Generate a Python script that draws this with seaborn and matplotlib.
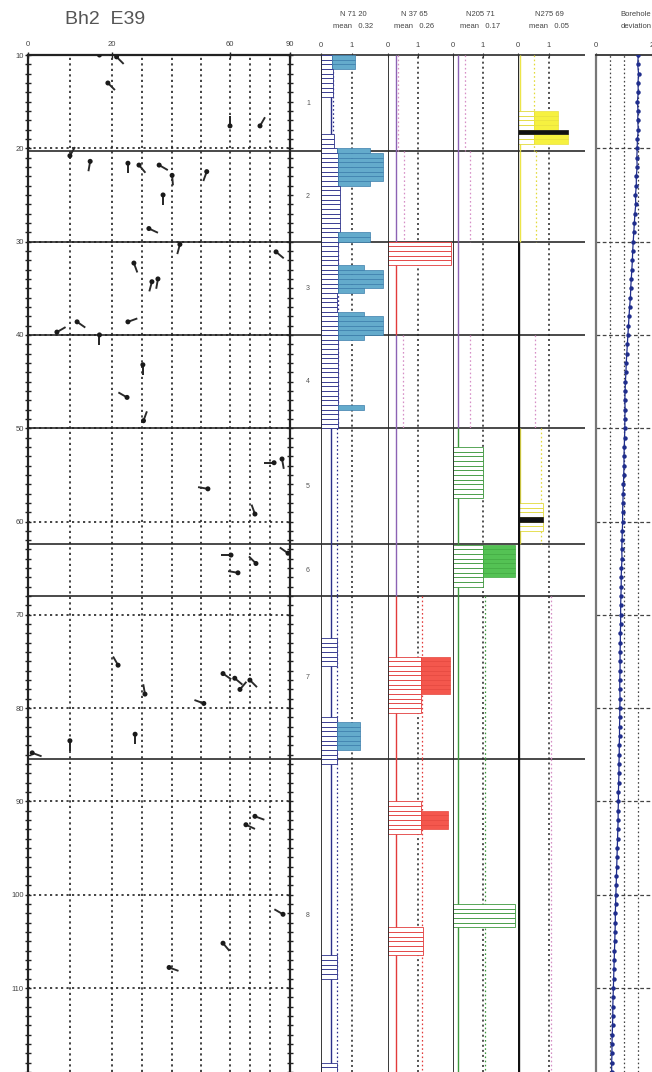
import numpy as np
import matplotlib
matplotlib.use("Agg")
import matplotlib.pyplot as plt
import seaborn as sns

sns.set_theme(style="white")
plt.rcParams['font.family'] = ['Liberation Sans', 'DejaVu Sans']

# ------------------------------------------------------------------ data
title = "Bh2  E39"
zone_names = ["1", "2", "3", "4", "5", "6", "7", "8"]
zone_bounds = [10.0, 20.3, 30.0, 40.0, 50.0, 62.4, 68.0, 85.5, 119.0]
depth_labels = [10, 20, 30, 40, 50, 60, 70, 80, 90, 100, 110]
dip_labels = [0, 20, 60, 90]

# tadpoles: dip (deg), depth (m), tail azimuth (deg, clockwise from up)
tad_dip = [17, 21.5, 19, 60, 75, 10, 14.8, 25.3, 29, 35.7, 40, 52, 37, 32.3, 42.7, 83,
           27.3, 33.3, 35.3, 25.3, 6.9, 11.7, 17, 30.3, 25, 30.5, 82, 86, 52.4, 72.5,
           89, 60.5, 73, 64, 22, 31, 57.6, 62.4, 70, 65, 51, 10, 27.7, 1, 72.5, 68,
           86.5, 57.6, 39]
tad_depth = [10.0, 10.2, 13.0, 17.6, 17.6, 20.8, 21.4, 21.6, 21.8, 21.8, 22.9, 22.5,
             25.0, 28.6, 30.3, 31.1, 32.3, 34.3, 34.0, 38.6, 39.7, 38.6, 40.0, 43.2,
             46.7, 49.2, 53.7, 53.3, 56.5, 59.2, 63.4, 63.6, 64.5, 65.5, 75.4, 78.5,
             76.3, 76.8, 77.0, 78.0, 79.5, 83.5, 82.8, 84.8, 91.6, 92.5, 102.1, 105.2,
             107.8]
tad_az = [90, 135, 135, 0, 30, 30, 190, 180, 140, 120, 175, 200, 180, 115, 195, 130,
          160, 195, 190, 70, 60, 125, 180, 180, 300, 20, 270, 170, 280, 340, 305, 270,
          315, 280, 330, 350, 125, 130, 135, 40, 290, 180, 180, 110, 110, 115, 300,
          140, 110]

# fracture-set histograms: segments (top, bottom, outlined value, total value)
n71_top = [10.0, 11.5, 18.5, 20.0, 20.5, 23.5, 24.0, 29.0, 30.0, 32.5, 33.0, 35.0, 35.5,
           37.5, 38.0, 40.0, 40.5, 47.5, 48.0, 72.5, 81.0, 81.5, 84.5, 106.5, 118.0]
n71_bot = [11.5, 14.5, 20.0, 20.5, 23.5, 24.0, 29.0, 30.0, 32.5, 33.0, 35.0, 35.5, 37.5,
           38.0, 40.0, 40.5, 47.5, 48.0, 50.0, 75.5, 81.5, 84.5, 86.0, 109.0, 119.5]
n71_open = [0.35, 0.38, 0.42, 0.5, 0.55, 0.55, 0.6, 0.55, 0.55, 0.55, 0.55, 0.55, 0.5,
            0.55, 0.55, 0.55, 0.55, 0.55, 0.55, 0.5, 0.5, 0.5, 0.5, 0.5, 0.5]
n71_total = [1.1, 0.38, 0.42, 1.58, 2.0, 1.58, 0.6, 1.58, 0.55, 1.4, 2.0, 1.4, 0.5,
             1.4, 2.0, 1.4, 0.55, 1.4, 0.55, 0.5, 0.5, 1.25, 0.5, 0.5, 0.5]

n37_top = [30.0, 74.5, 78.5, 90.0, 91.0, 93.0, 103.5]
n37_bot = [32.5, 78.5, 80.5, 91.0, 93.0, 93.5, 106.5]
n37_open = [2.1, 1.1, 1.1, 1.1, 1.1, 1.1, 1.15]
n37_total = [2.1, 2.05, 1.1, 1.1, 2.0, 1.1, 1.15]

n205_top = [52.0, 62.5, 66.0, 101.0]
n205_bot = [57.5, 66.0, 67.0, 103.5]
n205_open = [1.0, 1.0, 1.0, 2.05]
n205_total = [1.0, 2.05, 1.0, 2.05]

n275_top = [16.0, 18.5, 58.0, 60.0]
n275_bot = [18.0, 19.5, 59.5, 61.0]
n275_open = [0.5, 0.5, 0.8, 0.8]
n275_total = [1.3, 1.6, 0.8, 0.8]
n275_dark_top = [18.0, 59.5]
n275_dark_bot = [18.5, 60.0]
n275_dark_val = [1.6, 0.8]

set_names = ["N 71 20", "N 37 65", "N205 71", "N275 69"]
set_means = [0.32, 0.26, 0.17, 0.05]
zone_means = [
    [0.38, 0.55, 0.55, 0.55, 0.5, 0.5, 0.5, 0.5],
    [0.33, 0.53, np.nan, 0.5, np.nan, np.nan, 1.13, 1.13],
    [0.40, 0.57, np.nan, 0.55, np.nan, np.nan, 1.05, 1.05],
    [0.50, 0.58, np.nan, 0.55, 0.75, np.nan, 1.05, 1.05],
]
set_present = [
    [True] * 8,
    [False, False, True, False, False, False, True, True],
    [False, False, False, False, True, True, True, True],
    [True, True, False, False, True, False, False, False],
]

# borehole deviation, one value per metre from 10 m to 119 m
dev_depth = list(range(10, 120))
dev_vals = [1.51, 1.49, 1.52, 1.50, 1.51, 1.48, 1.50, 1.49, 1.51, 1.48,
            1.47, 1.46, 1.47, 1.44, 1.44, 1.41, 1.42, 1.39, 1.37, 1.35,
            1.33, 1.31, 1.30, 1.28, 1.26, 1.24, 1.23, 1.20, 1.18, 1.16,
            1.14, 1.12, 1.10, 1.08, 1.07, 1.05, 1.04, 1.03, 1.04, 1.03,
            1.03, 1.02, 1.01, 1.00, 1.00, 0.99, 0.98, 0.97, 0.96, 0.95,
            0.95, 0.94, 0.93, 0.92, 0.93, 0.91, 0.90, 0.90, 0.89, 0.88,
            0.88, 0.88, 0.87, 0.87, 0.86, 0.86, 0.86, 0.85, 0.85, 0.86,
            0.85, 0.85, 0.84, 0.84, 0.83, 0.83, 0.82, 0.82, 0.81, 0.80,
            0.80, 0.79, 0.79, 0.78, 0.77, 0.76, 0.75, 0.74, 0.73, 0.72,
            0.71, 0.70, 0.69, 0.69, 0.68, 0.67, 0.66, 0.65, 0.64, 0.63,
            0.62, 0.61, 0.60, 0.60, 0.59, 0.58, 0.57, 0.57, 0.56, 0.56]

# ------------------------------------------------------------------ layout helpers
W, H = 652, 1072
Y_TOP = 55
PX_PER_M = 9.33
D_TOP = 10.0
D_BOT = D_TOP + (H - Y_TOP) / PX_PER_M

fig = plt.figure(figsize=(W / 100, H / 100), dpi=100)
fig.patch.set_facecolor("white")


def add_ax(x0, x1, y0=Y_TOP, y1=H):
    ax = fig.add_axes([x0 / W, 1 - y1 / H, (x1 - x0) / W, (y1 - y0) / H])
    ax.set_facecolor("none")
    ax.set_ylim(D_BOT, D_TOP)
    return ax


def ftext(x, y, s, **kw):
    kw.setdefault("ha", "center")
    kw.setdefault("va", "center")
    kw.setdefault("color", "#444444")
    fig.text(x / W, 1 - y / H, s, **kw)


DOT = (0, (1.3, 2.0))

# background axes for zone boundaries and zone labels
bg = fig.add_axes([0, 0, 1, 1])
bg.set_xlim(0, W)
bg.set_ylim(D_BOT, D_TOP - Y_TOP / PX_PER_M)
bg.axis("off")
bg.hlines(zone_bounds[:-1], 28, 585, color="#3a3a3a", lw=1.3, zorder=1)
for i, nm in enumerate(zone_names):
    zc = 0.5 * (zone_bounds[i] + zone_bounds[i + 1])
    bg.text(308, zc, nm, fontsize=5, color="#555555", ha="center", va="center")

# ------------------------------------------------------------------ tadpole panel
dip_breaks = [0, 10, 20, 30, 40, 50, 60, 70, 80, 90]
frac_breaks = [0, 0.160, 0.321, 0.435, 0.550, 0.660, 0.771, 0.847, 0.924, 1.0]


def fwd(v):
    return np.interp(v, dip_breaks, frac_breaks)


def inv(v):
    return np.interp(v, frac_breaks, dip_breaks)


axt = add_ax(28, 290)
axt.set_xscale("function", functions=(fwd, inv))
axt.set_xlim(0, 90)
axt.set_ylim(D_BOT, D_TOP)

for d in dip_breaks[1:-1]:
    axt.axvline(d, color="#222222", lw=1.2, ls=DOT, zorder=1)
for d in depth_labels[1:]:
    axt.axhline(d, color="#222222", lw=1.2, ls=DOT, zorder=1)

for side in ["left", "right", "top"]:
    axt.spines[side].set_visible(True)
    axt.spines[side].set_color("#222222")
    axt.spines[side].set_linewidth(1.6)
axt.spines["bottom"].set_visible(False)

axt.set_yticks(depth_labels)
axt.set_yticklabels([str(v) for v in depth_labels], fontsize=5.5, color="#444444")
axt.set_yticks(np.arange(10, 120, 1), minor=True)
axt.tick_params(axis="y", which="both", left=True, right=True, direction="inout",
                length=4, width=1, color="#222222", pad=1)
axt.xaxis.tick_top()
axt.set_xticks(dip_labels)
axt.set_xticklabels([str(v) for v in dip_labels], fontsize=5.5, color="#444444")
axt.tick_params(axis="x", which="both", top=True, bottom=False, direction="inout",
                length=4, width=1, color="#222222", pad=3)
axt.set_xlabel("")
axt.set_ylabel("")

n = len(tad_dip)
axt.quiver(tad_dip, tad_depth, np.full(n, 10.0), np.zeros(n),
           angles=90 - np.array(tad_az, dtype=float), scale_units="dots", scale=1,
           units="dots", width=1.9, headwidth=0, headlength=0, headaxislength=0,
           pivot="tail", color="#2a2a2a", zorder=4)
sns.scatterplot(x=tad_dip, y=tad_depth, color="#1a1a1a", s=13, edgecolor="none",
                ax=axt, zorder=5, legend=False)
axt.set_xlim(0, 90)
axt.set_ylim(D_BOT, D_TOP)

# ------------------------------------------------------------------ histogram panels
panels = [
    dict(x0=321, x1=387, ppu=31, tops=n71_top, bots=n71_bot, op=n71_open, tot=n71_total,
         edge="#2b2f8a", fill="#64abcc", fedge="#3a7dab", hx=353),
    dict(x0=388, x1=453, ppu=30, tops=n37_top, bots=n37_bot, op=n37_open, tot=n37_total,
         edge="#e23b3b", fill="#f4574d", fedge="#e6463d", hx=414),
    dict(x0=453, x1=518, ppu=30, tops=n205_top, bots=n205_bot, op=n205_open, tot=n205_total,
         edge="#3d983d", fill="#54c254", fedge="#40aa40", hx=480),
    dict(x0=518, x1=585, ppu=31, tops=n275_top, bots=n275_bot, op=n275_open, tot=n275_total,
         edge="#e2da3a", fill="#f6f140", fedge="#e9e13c", hx=549),
]
purple = "#8c62b4"
pink = "#d68fc6"

for k, p in enumerate(panels):
    ax = add_ax(p["x0"], p["x1"])
    ax.set_xlim(0, (p["x1"] - p["x0"]) / p["ppu"])
    for s in ax.spines.values():
        s.set_visible(False)
    ax.set_yticks([])
    ax.xaxis.tick_top()
    ax.set_xticks([0, 1])
    ax.set_xticklabels(["0", "1"], fontsize=5.5, color="#444444")
    ax.tick_params(axis="x", top=True, bottom=False, length=3, width=0.8,
                   color="#333333", pad=3, direction="inout")

    # left axis line
    if k < 3:
        ax.axvline(0, color="#2a2a2a", lw=1.3, zorder=6)
    else:
        ax.vlines(0, zone_bounds[0], zone_bounds[2], color="#2a2a2a", lw=0.9, zorder=6)
        ax.vlines(0, zone_bounds[2], zone_bounds[-1], color="#111111", lw=2.4, zorder=6)

    # "1" reference line
    ax.axvline(1, color="#222222", lw=1.1, ls=DOT, zorder=2)

    # per-zone mean lines
    for z in range(8):
        z0, z1 = zone_bounds[z], zone_bounds[z + 1]
        pres = set_present[k][z]
        if k == 0:
            mc = p["edge"]
        elif k == 3:
            mc = "#ece54a" if pres else None
        else:
            mc = p["edge"] if pres else purple
        if mc is not None:
            ax.vlines(set_means[k], z0, z1, color=mc, lw=1.0, zorder=3)
        zm = zone_means[k][z]
        if not np.isnan(zm):
            ax.vlines(zm, z0, z1, color=p["edge"] if pres else pink, lw=0.9,
                      ls=DOT, zorder=2)

    # histogram bars in 0.5 m bins
    for t, b, o, tot in zip(p["tops"], p["bots"], p["op"], p["tot"]):
        centers = np.arange(t, b - 1e-6, 0.5) + 0.25
        ax.barh(centers, o, height=0.5, left=0, color="white", edgecolor=p["edge"],
                linewidth=0.6, zorder=4)
        if tot > o:
            ax.barh(centers, tot - o, height=0.5, left=o, color=p["fill"],
                    edgecolor=p["fedge"], linewidth=0.5, zorder=4)
    if k == 3:
        for t, b, v in zip(n275_dark_top, n275_dark_bot, n275_dark_val):
            ax.barh([0.5 * (t + b)], v, height=b - t, left=0, color="#111111",
                    edgecolor="#111111", linewidth=0.5, zorder=5)
    ax.set_ylim(D_BOT, D_TOP)

    ftext(p["hx"], 15, set_names[k], fontsize=5.5)
    ftext(p["hx"], 27, f"mean   {set_means[k]:.2f}", fontsize=5.5)

# ------------------------------------------------------------------ borehole deviation
axd = add_ax(596, 652)
axd.set_xlim(0, 2)
for s in axd.spines.values():
    s.set_visible(False)
axd.spines["left"].set_visible(True)
axd.spines["left"].set_color("#777777")
axd.spines["left"].set_linewidth(1.6)
axd.spines["top"].set_visible(True)
axd.spines["top"].set_color("#333333")
axd.spines["top"].set_linewidth(1.3)
for v in [0.5, 1.0, 1.5]:
    axd.axvline(v, color="#444444", lw=0.9, ls=DOT, zorder=1)
for d in depth_labels[1:]:
    axd.axhline(d, color="#444444", lw=0.9, ls=(0, (3, 2)), zorder=1)
sns.lineplot(x=dev_vals, y=dev_depth, sort=False, estimator=None, color="#1f2d8c",
             lw=0.9, marker="o", markersize=3.2, markeredgewidth=0, ax=axd, zorder=4)
axd.set_ylim(D_BOT, D_TOP)
axd.set_xlim(0, 2)
axd.set_yticks([])
axd.xaxis.tick_top()
axd.set_xticks([0, 2])
axd.set_xticklabels(["0", "2"], fontsize=5.5, color="#444444")
axd.tick_params(axis="x", top=True, bottom=False, length=3, width=0.8, pad=3,
                color="#333333", direction="inout")
axd.set_xlabel("")
axd.set_ylabel("")
ftext(636, 15, "Borehole", fontsize=5.5)
ftext(636, 27, "deviation", fontsize=5.5)

# title
ftext(105, 20, title, fontsize=14, color="#555555")

fig.savefig("out.png", dpi=100, facecolor="white")
